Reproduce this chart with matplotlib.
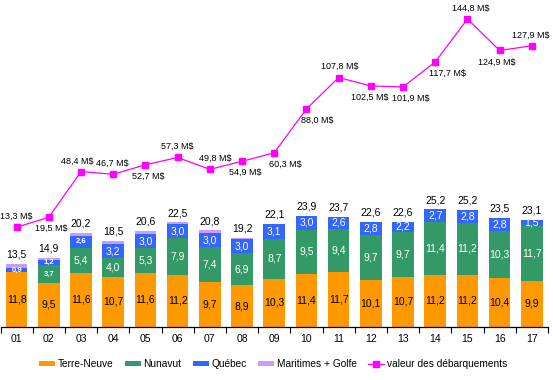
import matplotlib
matplotlib.use('Agg')
import matplotlib.pyplot as plt
import numpy as np
from matplotlib.patches import Patch
from matplotlib.lines import Line2D

plt.rcParams['font.family'] = ['Liberation Sans', 'DejaVu Sans']

years = ['01', '02', '03', '04', '05', '06', '07', '08', '09', '10', '11', '12', '13', '14', '15', '16', '17']
terre_neuve = [11.8, 9.5, 11.6, 10.7, 11.6, 11.2, 9.7, 8.9, 10.3, 11.4, 11.7, 10.1, 10.7, 11.2, 11.2, 10.4, 9.9]
nunavut = [0.0, 3.7, 5.4, 4.0, 5.3, 7.9, 7.4, 6.9, 8.7, 9.5, 9.4, 9.7, 9.7, 11.4, 11.2, 10.3, 11.7]
quebec = [0.9, 1.2, 2.6, 3.2, 3.0, 3.0, 3.0, 3.0, 3.1, 3.0, 2.6, 2.8, 2.2, 2.7, 2.8, 2.8, 1.5]
maritimes = [0.8, 0.5, 0.6, 0.6, 0.7, 0.4, 0.7, 0.4, 0.0, 0.0, 0.0, 0.0, 0.0, 0.0, 0.0, 0.0, 0.0]
totals = [13.5, 14.9, 20.2, 18.5, 20.6, 22.5, 20.8, 19.2, 22.1, 23.9, 23.7, 22.6, 22.6, 25.2, 25.2, 23.5, 23.1]
landings = [13.3, 19.5, 48.4, 46.7, 52.7, 57.3, 49.8, 54.9, 60.3, 88.0, 107.8, 102.5, 101.9, 117.7, 144.8, 124.9, 127.9]

series_names = ['Terre-Neuve', 'Nunavut', 'Québec', 'Maritimes + Golfe']
line_name = 'valeur des débarquements'

# style settings
colors = ['#FF9900', '#339966', '#3366FF', '#CC99FF']
label_colors = ['black', 'white', 'white', None]
magenta = '#FF00FF'
# label placement for the line: (dx px, above?)
line_label_pos = [(0, True), (2, False), (-4, True), (-1, True), (3, False), (0, True),
                  (5, True), (3, False), (11, False), (11, False), (1, True), (-1, False),
                  (8, False), (12, False), (3, True), (-3, False), (-1, True)]
small_bold = {(2, 0), (2, 1), (1, 1), (2, 2)}

def fmt(v):
    return f"{v:.1f}".replace('.', ',')

W, H = 553, 380
fig = plt.figure(figsize=(W / 100, H / 100), dpi=100)
ax = fig.add_axes([0.5 / W, 53.3 / H, 547.5 / W, 326.7 / H])
ax2 = ax.twinx()

x = np.arange(len(years))
stack = [terre_neuve, nunavut, quebec, maritimes]
bottom = np.zeros(len(years))
for si, vals in enumerate(stack):
    vals = np.array(vals)
    ax.bar(x, vals, bottom=bottom, width=0.67, color=colors[si], edgecolor='none', zorder=2)
    if label_colors[si] is not None:
        for i, v in enumerate(vals):
            if v <= 0:
                continue
            if (si, i) in small_bold:
                ax.text(x[i], bottom[i] + v / 2, fmt(v), ha='center', va='center',
                        fontsize=5.5, fontweight='bold', color=label_colors[si], zorder=3)
            else:
                ax.text(x[i], bottom[i] + v / 2, fmt(v), ha='center', va='center',
                        fontsize=7.5, color=label_colors[si], zorder=3)
    bottom = bottom + vals

for i, t in enumerate(totals):
    ax.annotate(fmt(t), (x[i], bottom[i]), xytext=(0, 3), textcoords='offset points',
                ha='center', va='bottom', fontsize=7.5, color='black')

ax.set_xlim(-0.5, len(years) - 0.5)
ax.set_ylim(0, 70.4)
for s in ['top', 'left', 'right']:
    ax.spines[s].set_visible(False)
ax.spines['bottom'].set_linewidth(0.9)
ax.set_yticks([])
ax.set_xticks(x)
ax.set_xticklabels(years, fontsize=7.5)
ax.tick_params(axis='x', which='major', length=0, pad=5)
ax.set_xticks(np.arange(-0.5, len(years), 1.0), minor=True)
ax.tick_params(axis='x', which='minor', length=4, width=0.8, direction='out')

ax2.plot(x, landings, color=magenta, lw=0.9, marker='s', markersize=4, zorder=4)
for i, v in enumerate(landings):
    dx, above = line_label_pos[i]
    ax2.annotate(f"{fmt(v)} M$", (x[i], v), xytext=(dx * 0.72, 4.5 if above else -5),
                 textcoords='offset points', ha='center', va='bottom' if above else 'top',
                 fontsize=6.5, color='black')
ax2.set_ylim(-49.6, 156.8)
ax2.set_yticks([])
for s in ['top', 'left', 'right', 'bottom']:
    ax2.spines[s].set_visible(False)

handles = [Patch(facecolor=c, edgecolor='none') for c in colors]
handles.append(Line2D([0], [0], color=magenta, lw=0.9, marker='s', markersize=4))
leg = fig.legend(handles, series_names + [line_name], loc='center', ncol=5,
                 bbox_to_anchor=(273 / W, 1 - 364 / H), frameon=False, fontsize=7.3,
                 handlelength=1.6, handleheight=0.5, handletextpad=0.25, columnspacing=1.1)

fig.savefig('out.png', dpi=100)
